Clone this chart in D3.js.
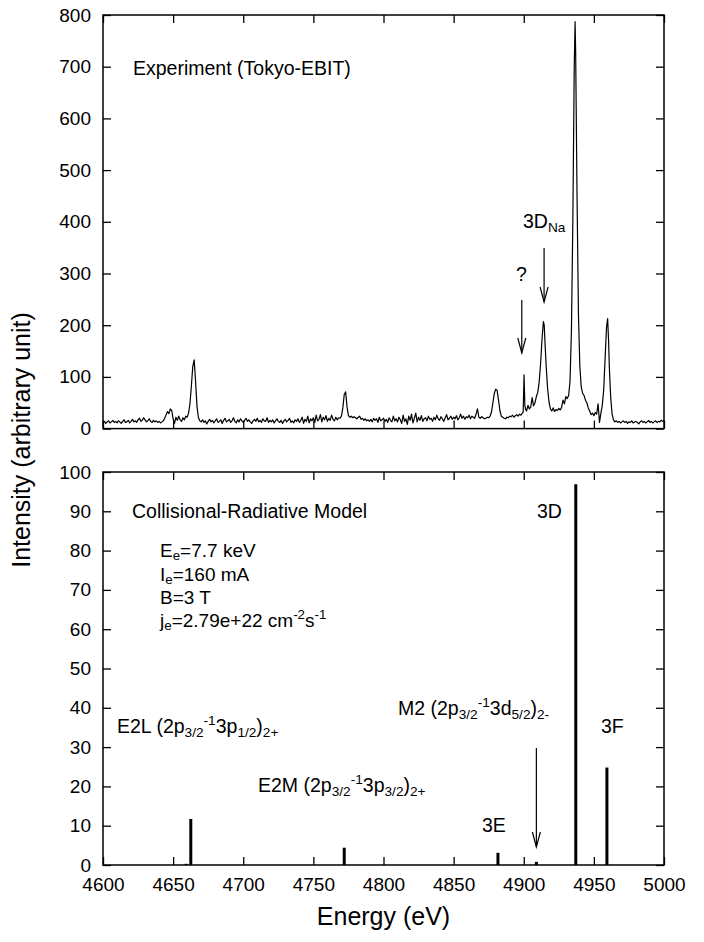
<!DOCTYPE html>
<html>
<head>
<meta charset="utf-8">
<script src="https://cdn.jsdelivr.net/npm/d3@7"></script>
<style>
  html, body { margin: 0; padding: 0; background: #fff; }
  svg { display: block; }
  text { font-family: "Liberation Sans", Arial, Helvetica, sans-serif; fill: #000; }
</style>
</head>
<body>
<svg id="chart" width="704" height="942"></svg>
<script>
// ---------------- DATA ----------------
const xTicks = [4600, 4650, 4700, 4750, 4800, 4850, 4900, 4950, 5000];
const yTopTicks = [0, 100, 200, 300, 400, 500, 600, 700, 800];
const yBotTicks = [0, 10, 20, 30, 40, 50, 60, 70, 80, 90, 100];

// Experimental spectrum (Tokyo-EBIT): [energy eV, intensity]
const spectrum = [
 [4600,12],[4601,14],[4602,10],[4603,13],[4604,15],[4605,11],[4606,13],[4607,16],[4608,12],[4609,14],
 [4610,11],[4611,15],[4612,13],[4613,10],[4614,14],[4615,17],[4616,12],[4617,13],[4618,16],[4619,11],
 [4620,14],[4621,18],[4622,13],[4623,15],[4624,12],[4625,17],[4626,20],[4627,14],[4628,16],[4629,21],
 [4630,17],[4631,13],[4632,15],[4633,19],[4634,14],[4635,12],[4636,16],[4637,13],[4638,15],[4639,12],
 [4640,14],[4641,11],[4642,13],[4643,15],[4644,20],[4645,27],[4646,33],[4647,29],[4648,38],[4649,35],
 [4650,19],[4651,10],[4652,22],[4653,16],[4654,24],[4655,17],[4656,14],[4657,21],[4658,17],[4659,24],
 [4660,22],[4661,30],[4662,48],[4663,82],[4664,120],[4665,133],[4666,92],[4667,44],[4668,22],[4669,15],
 [4670,13],[4671,17],[4672,12],[4673,15],[4674,9],[4675,14],[4676,18],[4677,13],[4678,16],[4679,11],
 [4680,15],[4681,19],[4682,12],[4683,14],[4684,17],[4685,10],[4686,16],[4687,20],[4688,13],[4689,15],
 [4690,18],[4691,12],[4692,15],[4693,21],[4694,14],[4695,11],[4696,17],[4697,13],[4698,19],[4699,15],
 [4700,12],[4701,16],[4702,20],[4703,14],[4704,17],[4705,13],[4706,10],[4707,15],[4708,18],[4709,14],
 [4710,20],[4711,13],[4712,16],[4713,12],[4714,19],[4715,15],[4716,14],[4717,21],[4718,12],[4719,16],
 [4720,13],[4721,17],[4722,11],[4723,15],[4724,19],[4725,14],[4726,12],[4727,16],[4728,10],[4729,15],
 [4730,18],[4731,13],[4732,16],[4733,20],[4734,12],[4735,15],[4736,11],[4737,17],[4738,14],[4739,19],
 [4740,12],[4741,16],[4742,22],[4743,10],[4744,18],[4745,14],[4746,24],[4747,11],[4748,19],[4749,15],
 [4750,21],[4751,12],[4752,26],[4753,15],[4754,18],[4755,27],[4756,13],[4757,22],[4758,17],[4759,25],
 [4760,14],[4761,20],[4762,16],[4763,26],[4764,18],[4765,15],[4766,22],[4767,17],[4768,21],[4769,20],
 [4770,24],[4771,40],[4772,66],[4773,71],[4774,42],[4775,25],[4776,22],[4777,24],[4778,21],[4779,23],
 [4780,21],[4781,19],[4782,22],[4783,24],[4784,18],[4785,20],[4786,16],[4787,19],[4788,15],[4789,17],
 [4790,14],[4791,18],[4792,13],[4793,20],[4794,16],[4795,19],[4796,12],[4797,22],[4798,15],[4799,17],
 [4800,20],[4801,14],[4802,18],[4803,12],[4804,21],[4805,16],[4806,13],[4807,24],[4808,15],[4809,19],
 [4810,13],[4811,22],[4812,17],[4813,10],[4814,26],[4815,14],[4816,19],[4817,8],[4818,24],[4819,16],
 [4820,28],[4821,11],[4822,20],[4823,30],[4824,13],[4825,22],[4826,16],[4827,25],[4828,14],[4829,19],
 [4830,21],[4831,15],[4832,24],[4833,18],[4834,20],[4835,14],[4836,22],[4837,17],[4838,26],[4839,19],
 [4840,16],[4841,23],[4842,19],[4843,14],[4844,21],[4845,27],[4846,17],[4847,20],[4848,24],[4849,18],
 [4850,22],[4851,19],[4852,25],[4853,17],[4854,21],[4855,28],[4856,20],[4857,24],[4858,18],[4859,23],
 [4860,21],[4861,26],[4862,19],[4863,24],[4864,22],[4865,20],[4866,28],[4867,38],[4868,22],[4869,20],
 [4870,23],[4871,21],[4872,19],[4873,20],[4874,22],[4875,21],[4876,24],[4877,32],[4878,50],[4879,68],
 [4880,76],[4881,74],[4882,55],[4883,35],[4884,24],[4885,22],[4886,20],[4887,19],[4888,22],[4889,21],
 [4890,24],[4891,23],[4892,26],[4893,22],[4894,25],[4895,27],[4896,24],[4897,28],[4898,26],[4899,30],
 [4899.6,32],[4900.2,104],[4900.8,44],[4901.5,36],[4902,34],[4903,45],[4904,38],[4905,42],[4906,60],[4907,44],
 [4908,50],[4909,62],[4910,70],[4911,90],[4912,125],[4913,172],[4914,207],[4914.6,200],[4915,175],[4916,120],
 [4917,78],[4918,52],[4919,38],[4920,34],[4921,40],[4922,33],[4923,37],[4924,35],[4925,39],[4926,36],
 [4927,41],[4928,55],[4929,48],[4930,62],[4931,58],[4932,64],[4933,92],[4934,190],[4935,400],[4936,700],
 [4936.6,787],[4937,730],[4938,450],[4939,220],[4940,120],[4941,80],[4942,68],[4943,64],[4944,55],[4945,50],
 [4946,40],[4947,34],[4948,27],[4949,30],[4950,25],[4951,31],[4952,28],[4953,48],[4954,12],[4955,30],
 [4956,45],[4957,75],[4958,135],[4959,195],[4959.8,213],[4960.5,170],[4961,120],[4962,60],[4963,28],[4964,17],
 [4965,13],[4966,15],[4967,12],[4968,14],[4969,11],[4970,13],[4971,15],[4972,12],[4973,14],[4974,10],
 [4975,13],[4976,12],[4977,15],[4978,11],[4979,13],[4980,14],[4981,12],[4982,9],[4983,13],[4984,15],
 [4985,12],[4986,14],[4987,11],[4988,13],[4989,16],[4990,12],[4991,14],[4992,11],[4993,13],[4994,15],
 [4995,12],[4996,14],[4997,13],[4998,16],[4999,14],[5000,15]
];

// Collisional-radiative model line intensities
const modelEnergy    = [4659.3, 4662.6, 4772.0, 4881.6, 4909.0, 4937.1, 4959.3];
const modelIntensity = [0.3, 11.7, 4.4, 3.1, 0.8, 96.9, 24.8];

// ---------------- LAYOUT ----------------
const svg = d3.select("#chart");
const FONT = 19;
const AFONT = 19.5;
const left = 103, right = 664;
const topPanel = {y0: 15, y1: 428.6};
const botPanel = {y0: 472, y1: 865};

const x = d3.scaleLinear().domain([4600, 5000]).range([left, right]);
const yTop = d3.scaleLinear().domain([0, 800]).range([topPanel.y1, topPanel.y0]);
const yBot = d3.scaleLinear().domain([0, 100]).range([botPanel.y1, botPanel.y0]);

function drawFrame(y, yticks, showX) {
  const y0 = y.range()[1], y1 = y.range()[0];
  const gl = svg.append("g").attr("transform", `translate(${left},0)`)
    .call(d3.axisLeft(y).tickValues(yticks).tickSize(-8).tickPadding(12).tickFormat(d3.format("d")));
  const gr = svg.append("g").attr("transform", `translate(${right},0)`)
    .call(d3.axisRight(y).tickValues(yticks).tickSize(-8).tickFormat(""));
  const gt = svg.append("g").attr("transform", `translate(0,${y0})`)
    .call(d3.axisTop(x).tickValues(xTicks).tickSize(-8).tickFormat(""));
  const gb = svg.append("g").attr("transform", `translate(0,${y1})`)
    .call(d3.axisBottom(x).tickValues(xTicks).tickSize(-8).tickPadding(13)
      .tickFormat(showX ? d3.format("d") : ""));
  [gl, gr, gt, gb].forEach(g => {
    g.select(".domain").remove();
    g.selectAll(".tick line").attr("stroke", "#000").attr("stroke-width", 1.3);
    g.selectAll("text").attr("font-size", FONT).attr("font-family", null).style("fill", "#000");
  });
  svg.append("rect").attr("x", left).attr("y", y0)
    .attr("width", right - left).attr("height", y1 - y0)
    .attr("fill", "none").attr("stroke", "#000").attr("stroke-width", 1.5);
}

drawFrame(yTop, yTopTicks, false);
drawFrame(yBot, yBotTicks, true);

// ---------------- TOP: spectrum ----------------
svg.append("path")
  .datum(spectrum)
  .attr("fill", "none")
  .attr("stroke", "#000")
  .attr("stroke-width", 1.2)
  .attr("stroke-linejoin", "round")
  .attr("d", d3.line().x(d => x(d[0])).y(d => yTop(d[1])));

// ---------------- BOTTOM: model lines ----------------
svg.append("g").selectAll("line")
  .data(modelEnergy.map((e, i) => [e, modelIntensity[i]]))
  .join("line")
  .attr("x1", d => x(d[0])).attr("x2", d => x(d[0]))
  .attr("y1", yBot(0)).attr("y2", d => yBot(d[1]))
  .attr("stroke", "#000").attr("stroke-width", 3);

// ---------------- TEXT helpers ----------------
function rich(xp, yp, parts, size = AFONT, anchor = "start", subShift = 4) {
  const t = svg.append("text").attr("x", xp).attr("y", yp)
    .attr("font-size", size).attr("text-anchor", anchor);
  let cur = 0;
  const small = size * 0.7;
  parts.forEach(([s, kind]) => {
    let target = 0;
    if (kind === "sub") target = subShift;
    else if (kind === "sup") target = -8;
    t.append("tspan").text(s).attr("dy", target - cur)
      .attr("font-size", kind ? small : size);
    cur = target;
  });
  return t;
}

function arrow(xp, yFrom, yTo) {
  const g = svg.append("g").attr("stroke", "#000").attr("stroke-width", 1.2).attr("fill", "none");
  g.append("line").attr("x1", xp).attr("x2", xp).attr("y1", yFrom).attr("y2", yTo);
  g.append("path").attr("d", `M${xp - 4},${yTo - 15} L${xp},${yTo} L${xp + 4},${yTo - 15}`);
}

// Top panel annotations
rich(133, 75, [["Experiment (Tokyo-EBIT)"]]);
rich(521.5, 281, [["?"]], AFONT, "middle");
arrow(x(4898.6), 300, 353);
rich(523, 228, [["3D"], ["Na", "sub"]]);
arrow(x(4914.5), 248, 302);

// Bottom panel annotations
rich(132, 518, [["Collisional-Radiative Model"]]);
rich(160, 557, [["E"], ["e", "sub"], ["=7.7 keV"]], 19, "start", 3);
rich(160, 581, [["I"], ["e", "sub"], ["=160 mA"]], 19, "start", 3);
rich(160, 604, [["B=3 T"]], 19);
rich(160, 627, [["j"], ["e", "sub"], ["=2.79e+22 cm"], ["-2", "sup"], ["s"], ["-1", "sup"]], 19, "start", 3);
rich(117, 733, [["E2L (2p"], ["3/2", "sub"], ["-1", "sup"], ["3p"], ["1/2", "sub"], [")"], ["2+", "sub"]]);
rich(258, 792, [["E2M (2p"], ["3/2", "sub"], ["-1", "sup"], ["3p"], ["3/2", "sub"], [")"], ["2+", "sub"]]);
rich(482, 832, [["3E"]]);
rich(398, 715, [["M2 (2p"], ["3/2", "sub"], ["-1", "sup"], ["3d"], ["5/2", "sub"], [")"], ["2-", "sub"]]);
rich(537, 518, [["3D"]]);
rich(601, 733, [["3F"]]);
arrow(x(4909.0), 748, 847);

// Axis titles
svg.append("text").attr("x", (left + right) / 2).attr("y", 925)
  .attr("text-anchor", "middle").attr("font-size", 25).text("Energy (eV)");
svg.append("text")
  .attr("transform", `translate(30,${(topPanel.y0 + botPanel.y1) / 2}) rotate(-90)`)
  .attr("text-anchor", "middle").attr("font-size", 25).text("Intensity (arbitrary unit)");
</script>
</body>
</html>
